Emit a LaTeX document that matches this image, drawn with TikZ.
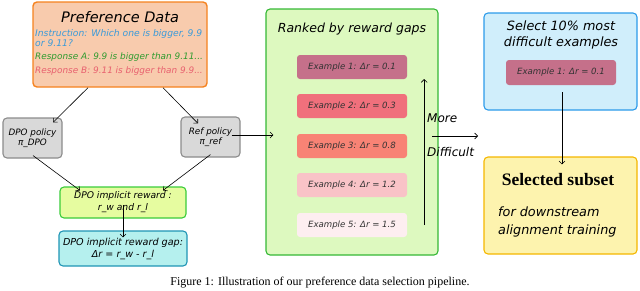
\documentclass[tikz,border=0pt]{standalone}
\usepackage{fontspec}
\setmainfont{DejaVu Sans}
\newfontfamily\capfont{Liberation Serif}
\usepackage{xcolor}
\usetikzlibrary{positioning,arrows.meta,calc}

\definecolor{preffill}{HTML}{F8CBAD}
\definecolor{prefdraw}{HTML}{F5821F}
\definecolor{instrcol}{HTML}{3A9AD9}
\definecolor{respacol}{HTML}{2E9B2E}
\definecolor{respbcol}{HTML}{E8606E}
\definecolor{polfill}{HTML}{D9D9D9}
\definecolor{poldraw}{HTML}{8C8C8C}
\definecolor{rewfill}{HTML}{E6FCA0}
\definecolor{rewdraw}{HTML}{3ACC3A}
\definecolor{gapfill}{HTML}{B5F0EE}
\definecolor{gapdraw}{HTML}{1F95B5}
\definecolor{rankfill}{HTML}{DDF9BF}
\definecolor{rankdraw}{HTML}{35B835}
\definecolor{exone}{HTML}{C5708A}
\definecolor{extwo}{HTML}{F0707C}
\definecolor{exthree}{HTML}{F88375}
\definecolor{exfour}{HTML}{F9C3C7}
\definecolor{exfive}{HTML}{FDEEF0}
\definecolor{selfill}{HTML}{D0EEFB}
\definecolor{seldraw}{HTML}{2C9BEA}
\definecolor{subfill}{HTML}{FDF3AE}
\definecolor{subdraw}{HTML}{F5B700}

\begin{document}
\begin{tikzpicture}[x=1pt, y=-1pt,
  box/.style={draw, rounded corners=4pt, line width=1.1pt, inner sep=0pt},
  ex/.style={rounded corners=3pt, minimum width=110pt, minimum height=24pt, text=black!80, font=\fontsize{8.6}{10}\selectfont\itshape},
  txt/.style={font=\fontsize{9.6}{11}\selectfont\itshape, align=center, inner sep=0pt},
  lbl/.style={font=\fontsize{12}{14}\selectfont\itshape, inner sep=0pt, anchor=west},
  arr/.style={-{Straight Barb[length=3pt, width=6pt]}, semithick}
]
\useasboundingbox (0,0) rectangle (640,290);

% Preference data
\node[box, fill=preffill, draw=prefdraw, line width=1.4pt, minimum width=174pt, minimum height=85pt] (pref) at (120,44.5) {};
\node[txt, font=\fontsize{14.5}{16}\selectfont\itshape] (preftitle) at (120,17) {Preference Data};
\node[txt, align=left, anchor=west, text=instrcol, font=\fontsize{9.2}{10}\selectfont\itshape] (instr) at (35,38.5) {Instruction: Which one is bigger, 9.9\\or 9.11?};
\node[txt, anchor=west, text=respacol, font=\fontsize{8.9}{11}\selectfont\itshape] (respa) at (35,57) {Response A: 9.9 is bigger than 9.11...};
\node[txt, anchor=west, text=respbcol, font=\fontsize{8.9}{11}\selectfont\itshape] (respb) at (35,71) {Response B: 9.11 is bigger than 9.9...};

% Policies
\node[box, fill=polfill, draw=poldraw, minimum width=59pt, minimum height=40pt, txt, font=\fontsize{8.8}{10.5}\selectfont\itshape] (dpo) at (32.5,138) {DPO policy\\π\_DPO};
\node[box, fill=polfill, draw=poldraw, minimum width=59pt, minimum height=40pt, txt, font=\fontsize{8.8}{10.5}\selectfont\itshape] (ref) at (210.5,137) {Ref policy\\π\_ref};

% Implicit reward
\node[box, fill=rewfill, draw=rewdraw, minimum width=126pt, minimum height=31pt, txt, font=\fontsize{9.2}{12}\selectfont\itshape] (reward) at (123,202.5) {DPO implicit reward :\\r\_w and r\_l};
\node[box, fill=gapfill, draw=gapdraw, minimum width=128pt, minimum height=35pt, txt, font=\fontsize{9.6}{12}\selectfont\itshape] (gap) at (123,248.5) {DPO implicit reward gap:\\Δr = r\_w - r\_l};

% Ranked examples
\node[box, fill=rankfill, draw=rankdraw, minimum width=172pt, minimum height=246pt] (ranked) at (352,132) {};
\node[txt, font=\fontsize{12.5}{14}\selectfont\itshape] (rtitle) at (352,29) {Ranked by reward gaps};
\node[ex, fill=exone] (ex1) at (352,67) {Example 1: Δr = 0.1};
\node[ex, fill=extwo] (ex2) at (352,106) {Example 2: Δr = 0.3};
\node[ex, fill=exthree] (ex3) at (352,146) {Example 3: Δr = 0.8};
\node[ex, fill=exfour] (ex4) at (352,185) {Example 4: Δr = 1.2};
\node[ex, fill=exfive] (ex5) at (352,225) {Example 5: Δr = 1.5};

\coordinate (uplow) at ($(ex5.east)+(17,0)$);
\coordinate (uphigh) at ($(ex1.east)+(17,12)$);
\coordinate (diffstart) at (432,136);
\coordinate (diffend) at (478,136);
\node[lbl] (more) at (427,118) {More};
\node[lbl] (difficult) at (427,152) {Difficult};

% Selection
\node[box, fill=selfill, draw=seldraw, minimum width=153pt, minimum height=97pt] (select) at (560.5,61.5) {};
\node[txt, font=\fontsize{12.8}{16.5}\selectfont\itshape] (seltext) at (561,35) {Select 10\% most\\difficult examples};
\node[ex, fill=exone, minimum height=25pt] (selex) at (561,72.5) {Example 1: Δr = 0.1};

\node[box, fill=subfill, draw=subdraw, minimum width=153pt, minimum height=97pt] (subset) at (560.5,205.5) {};
\node[inner sep=0pt, font=\fontsize{17.5}{19}\selectfont\capfont\bfseries] (subtitle) at (558,180) {Selected subset};
\node[txt, align=left, anchor=west, font=\fontsize{12.8}{18}\selectfont\itshape] (subtext) at (498,222) {for downstream\\alignment training};

% Arrows
\draw[arr] ($(pref.south)+(-32,0)$) -- ($(dpo.north)+(20.5,5)$);
\draw[arr] ($(pref.south)+(43,0)$) -- ($(ref.north)+(-12.5,7)$);
\draw[arr] ($(ref.east)+(-9,-2)$) -- ($(ranked.west)+(8,3)$);
\draw[arr] ($(dpo.south)+(0.5,-3)$) -- ($(reward.north)+(-43,4)$);
\draw[arr] ($(ref.south)+(0,-3)$) -- ($(reward.north)+(40,4)$);
\draw[arr] ($(reward.center)+(0,2.5)$) -- ($(gap.north)+(0,7)$);
\draw[arr] (uplow) -- (uphigh);
\draw[arr] (diffstart) -- (diffend);
\draw[arr] ($(selex.south)+(1,7)$) -- ($(subset.north)+(1.5,8)$);

% Caption
\node[inner sep=0pt, anchor=base, font=\fontsize{12}{13}\selectfont\capfont] (caption) at (320,285.5) {Figure 1: Illustration of our preference data selection pipeline.};
\end{tikzpicture}
\end{document}
